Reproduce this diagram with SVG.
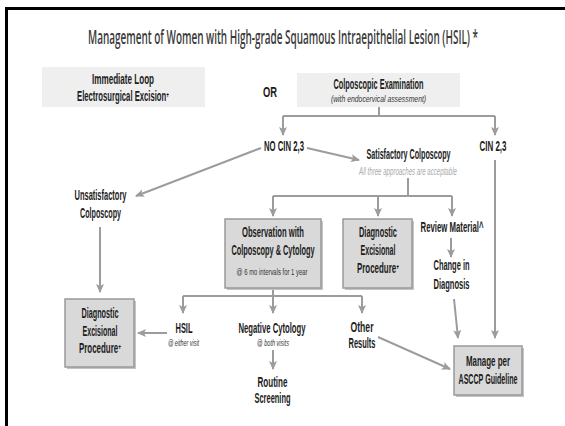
<svg xmlns="http://www.w3.org/2000/svg" width="565" height="426" viewBox="0 0 565 426">
<style>
text{font-family:"Liberation Sans","Open Sans",sans-serif;text-anchor:middle}
.t{font-size:14px;font-weight:700;fill:#1c1c1c}
.s{font-size:9px;font-style:italic;fill:#333}
.n{font-size:9px;fill:#333}
.g{font-size:10px;font-style:italic;fill:#aaaaaa}
.ttl{font-family:"Open Sans","Liberation Sans",sans-serif;font-size:19px;font-weight:600;fill:#3a3a3a}
.lt{fill:#efefef}
.bx{fill:#d9d9d9;stroke:#999999;stroke-width:1.5}
.sh{fill:#c4c4c4}
.c{fill:none;stroke:#9c9c9c;stroke-width:2}
.a{marker-end:url(#ah)}
</style>
<defs>
<marker id="ah" markerUnits="userSpaceOnUse" markerWidth="10" markerHeight="10" refX="8" refY="4" orient="auto">
<path d="M0,0 L9,4 L0,8 L2,4 z" fill="#9c9c9c"/>
</marker>
</defs>
<rect x="0" y="0" width="565" height="426" fill="#ffffff"/>
<path d="M6.5,430 V8.5 H570" fill="none" stroke="#000" stroke-width="3"/>
<text class="ttl" transform="translate(283,44) scale(0.5,1)" textLength="780" lengthAdjust="spacingAndGlyphs">Management of Women with High-grade Squamous Intraepithelial Lesion (HSIL) *</text>

<g id="connectors">
<path class="c" d="M379,107 V116"/>
<path class="c" d="M283,116 H495"/>
<path class="c a" d="M283,116 V135"/>
<path class="c a" d="M495,116 V135"/>
<path class="c a" d="M261,148 L136,196"/>
<path class="c a" d="M307,148 L359,160"/>
<path class="c a" d="M100,227 V292"/>
<path class="c" d="M408,178 V196"/>
<path class="c" d="M273,196 H452"/>
<path class="c a" d="M273,196 V216"/>
<path class="c a" d="M378,196 V216"/>
<path class="c a" d="M452,196 V216"/>
<path class="c a" d="M451,238 V257"/>
<path class="c a" d="M495,160 V338"/>
<path class="c a" d="M454,299 L458,338"/>
<path class="c" d="M273,288 V296"/>
<path class="c" d="M183,296 H362"/>
<path class="c a" d="M183,296 V313"/>
<path class="c a" d="M273,296 V313"/>
<path class="c a" d="M362,296 V313"/>
<path class="c a" d="M167,333 H138"/>
<path class="c a" d="M273,350 V369"/>
<path class="c a" d="M378,337 L450,369"/>
</g>

<g id="n-loop">
<rect class="lt" x="42" y="67" width="163" height="40"/>
<text class="t" transform="translate(123,84) scale(0.5,1)" textLength="124" lengthAdjust="spacingAndGlyphs">Immediate Loop</text>
<text class="t" transform="translate(123,101) scale(0.5,1)" textLength="184" lengthAdjust="spacingAndGlyphs">Electrosurgical Excision⁺</text>
</g>
<g id="n-or">
<text class="t" transform="translate(270,97) scale(0.5,1)" textLength="28" lengthAdjust="spacingAndGlyphs">OR</text>
</g>
<g id="n-colpo">
<rect class="lt" x="297" y="73" width="163" height="34"/>
<text class="t" transform="translate(378.5,89) scale(0.5,1)" textLength="180" lengthAdjust="spacingAndGlyphs">Colposcopic Examination</text>
<text class="s" transform="translate(378.5,102) scale(0.7,1)" textLength="136" lengthAdjust="spacingAndGlyphs">(with endocervical assessment)</text>
</g>
<g id="n-nocin">
<text class="t" transform="translate(284,151) scale(0.5,1)" textLength="80" lengthAdjust="spacingAndGlyphs">NO CIN 2,3</text>
</g>
<g id="n-cin">
<text class="t" transform="translate(493,151) scale(0.5,1)" textLength="54" lengthAdjust="spacingAndGlyphs">CIN 2,3</text>
</g>
<g id="n-satis">
<text class="t" transform="translate(408.5,159) scale(0.5,1)" textLength="168" lengthAdjust="spacingAndGlyphs">Satisfactory Colposcopy</text>
<text class="g" transform="translate(408,175) scale(0.6,1)" textLength="163" lengthAdjust="spacingAndGlyphs">All three approaches are acceptable</text>
</g>
<g id="n-unsat">
<text class="t" transform="translate(100.5,200) scale(0.5,1)" textLength="104" lengthAdjust="spacingAndGlyphs">Unsatisfactory</text>
<text class="t" transform="translate(100.5,218) scale(0.5,1)" textLength="82" lengthAdjust="spacingAndGlyphs">Colposcopy</text>
</g>
<g id="n-obs">
<rect class="sh" x="227" y="221" width="96" height="69"/>
<rect class="bx" x="225" y="219" width="96" height="69"/>
<text class="t" transform="translate(273,237) scale(0.5,1)" textLength="124" lengthAdjust="spacingAndGlyphs">Observation with</text>
<text class="t" transform="translate(273,255) scale(0.5,1)" textLength="166" lengthAdjust="spacingAndGlyphs">Colposcopy &amp; Cytology</text>
<text class="n" transform="translate(272,275) scale(0.6,1)" textLength="118" lengthAdjust="spacingAndGlyphs">@ 6 mo intervals for 1 year</text>
</g>
<g id="n-diag2">
<rect class="sh" x="345" y="221" width="69" height="69"/>
<rect class="bx" x="343" y="219" width="69" height="69"/>
<text class="t" transform="translate(378,237) scale(0.5,1)" textLength="76" lengthAdjust="spacingAndGlyphs">Diagnostic</text>
<text class="t" transform="translate(378,255) scale(0.5,1)" textLength="70" lengthAdjust="spacingAndGlyphs">Excisional</text>
<text class="t" transform="translate(378,273) scale(0.5,1)" textLength="84" lengthAdjust="spacingAndGlyphs">Procedure⁺</text>
</g>
<g id="n-review">
<text class="t" transform="translate(452,232) scale(0.5,1)" textLength="126" lengthAdjust="spacingAndGlyphs">Review Material^</text>
</g>
<g id="n-change">
<text class="t" transform="translate(451.5,270) scale(0.5,1)" textLength="72" lengthAdjust="spacingAndGlyphs">Change in</text>
<text class="t" transform="translate(451.5,289) scale(0.5,1)" textLength="72" lengthAdjust="spacingAndGlyphs">Diagnosis</text>
</g>
<g id="n-manage">
<rect class="sh" x="456" y="348" width="68" height="49"/>
<rect class="bx" x="454" y="346" width="68" height="49"/>
<text class="t" transform="translate(488,366) scale(0.5,1)" textLength="88" lengthAdjust="spacingAndGlyphs">Manage per</text>
<text class="t" transform="translate(488,384) scale(0.5,1)" textLength="118" lengthAdjust="spacingAndGlyphs">ASCCP Guideline</text>
</g>
<g id="n-diag1">
<rect class="sh" x="67" y="301" width="69" height="68"/>
<rect class="bx" x="65" y="299" width="69" height="68"/>
<text class="t" transform="translate(100,318) scale(0.5,1)" textLength="74" lengthAdjust="spacingAndGlyphs">Diagnostic</text>
<text class="t" transform="translate(100,336) scale(0.5,1)" textLength="70" lengthAdjust="spacingAndGlyphs">Excisional</text>
<text class="t" transform="translate(100,353) scale(0.5,1)" textLength="84" lengthAdjust="spacingAndGlyphs">Procedure⁺</text>
</g>
<g id="n-hsil">
<text class="t" transform="translate(184,333) scale(0.5,1)" textLength="34" lengthAdjust="spacingAndGlyphs">HSIL</text>
<text class="s" transform="translate(183.5,346) scale(0.6,1)" textLength="52" lengthAdjust="spacingAndGlyphs">@ either visit</text>
</g>
<g id="n-neg">
<text class="t" transform="translate(272,333) scale(0.5,1)" textLength="134" lengthAdjust="spacingAndGlyphs">Negative Cytology</text>
<text class="s" transform="translate(273,346) scale(0.6,1)" textLength="53" lengthAdjust="spacingAndGlyphs">@ both visits</text>
</g>
<g id="n-routine">
<text class="t" transform="translate(272.5,387) scale(0.5,1)" textLength="60" lengthAdjust="spacingAndGlyphs">Routine</text>
<text class="t" transform="translate(272.5,403) scale(0.5,1)" textLength="72" lengthAdjust="spacingAndGlyphs">Screening</text>
</g>
<g id="n-other">
<text class="t" transform="translate(362,332) scale(0.5,1)" textLength="46" lengthAdjust="spacingAndGlyphs">Other</text>
<text class="t" transform="translate(362,348) scale(0.5,1)" textLength="54" lengthAdjust="spacingAndGlyphs">Results</text>
</g>
</svg>
